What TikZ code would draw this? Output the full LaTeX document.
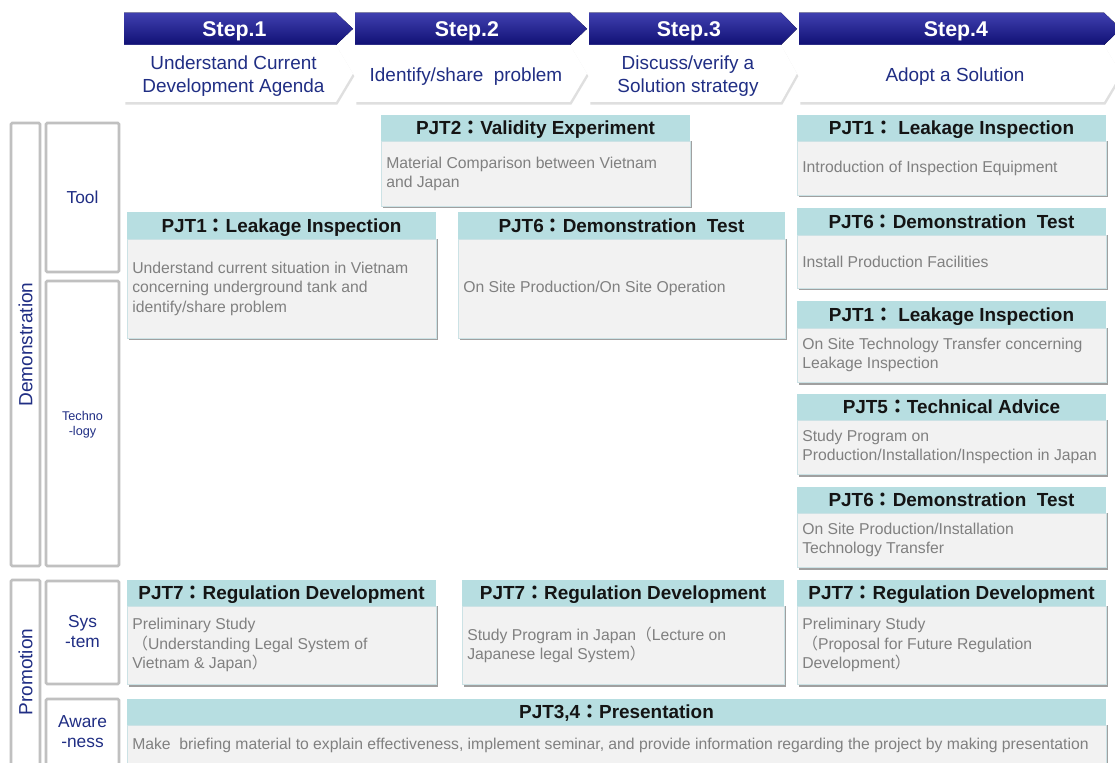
\documentclass[tikz,border=0pt]{standalone}
\usepackage{fontspec}
\setmainfont{Liberation Sans}
\newfontfamily\cjk{Noto Sans CJK JP}
\usetikzlibrary{shadows}

\definecolor{barTop}{RGB}{64,64,176}
\definecolor{barBot}{RGB}{16,16,116}
\definecolor{navy}{RGB}{32,46,132}
\definecolor{hdrFill}{RGB}{183,222,225}
\definecolor{bodyFill}{RGB}{242,242,242}
\definecolor{bodyLine}{RGB}{204,226,229}
\definecolor{bodyText}{RGB}{128,128,128}
\definecolor{frameLine}{RGB}{192,192,192}
\definecolor{shadowC}{RGB}{160,160,160}

% full-width punctuation
\newcommand\fwcolon{{\cjk ：}}
\newcommand\fwlp{{\cjk （}}
\newcommand\fwrp{{\cjk ）}}

\tikzset{
  stepbar/.style={top color=barTop, bottom color=barBot, draw=none},
  stepsub/.style={fill=white, drop shadow={shadow xshift=1pt, shadow yshift=-2pt, opacity=.25}},
  steptitle/.style={text=white, font=\fontsize{16}{19}\bfseries\selectfont, inner sep=0, anchor=base},
  subtitle/.style={text=navy, font=\fontsize{14.2}{17.3}\selectfont, align=center, inner sep=0},
  frame/.style={draw=frameLine, line width=2pt, fill=white, rounded corners=1pt},
  rowlabel/.style={text=navy, font=\fontsize{13}{15}\selectfont, align=center, inner sep=0},
  grouplabel/.style={text=navy, font=\fontsize{14.3}{17}\selectfont, inner sep=0, rotate=90},
  hdrbox/.style={fill=hdrFill},
  bodybox/.style={fill=bodyFill, draw=bodyLine, line width=0.6pt},
  hdrtext/.style={font=\fontsize{14.2}{16}\bfseries\selectfont, text=black!92, inner sep=0, anchor=base},
  bodytext/.style={font=\fontsize{11.8}{14.6}\selectfont, text=bodyText, align=left, inner sep=0, anchor=west},
}

% step chevron: name, left x, corner x, tip x, title, subtitle
\newcommand\stepchev[6]{%
  \fill[stepbar] (#2,12.7) -- (#3,12.7) -- (#4,28.8) -- (#3,45) -- (#2,45) -- cycle;
  \fill[stepsub] (#2,45) -- (#3,45) -- (#4,73.5) -- (#3,102) -- (#2,102) -- cycle;
  \node[steptitle] (#1-title) at ({(#2+#4)/2-4},36.5) {#5};
  \node[subtitle] (#1-sub) at ({(#2+#4)/2-5},76.5) {#6};
}

% project box: name, x1, header top, header bottom, x2, body bottom, title, text
\newcommand\pjtbox[8]{%
  \fill[shadowC] (#2+1.5,#4) rectangle (#5+1.5,#6+2.5);
  \draw[bodybox] (#2,#4) rectangle (#5,#6);
  \fill[hdrbox] (#2,#3) rectangle (#5,#4);
  \node[hdrtext] (#1-title) at ({(#2+#5)/2},{(#3+#4)/2+6.3}) {#7};
  \node[bodytext] (#1-text) at (#2+5,{(#4+#6)/2}) {#8};
}

\begin{document}
\begin{tikzpicture}[x=0.75pt, y=-0.75pt]
  \useasboundingbox (0,0) rectangle (1115,763);
  \fill[white] (0,0) rectangle (1115,763);
  \clip (0,0) rectangle (1115,763);

  % step header row
  \stepchev{s1}{124}{336}{353}{Step.1}{Understand Current\\Development Agenda}
  \stepchev{s2}{355}{570}{587}{Step.2}{Identify/share~ problem}
  \stepchev{s3}{589}{781}{797}{Step.3}{Discuss/verify a\\Solution strategy}
  \stepchev{s4}{799}{1104}{1121}{Step.4}{Adopt a Solution}

  % row frames on the left
  \draw[frame] (11,123) rectangle (40,566);
  \draw[frame] (46,123) rectangle (119,272);
  \draw[frame] (46,281) rectangle (119,566);
  \draw[frame] (11,580) rectangle (40,780);
  \draw[frame] (46,581) rectangle (119,684);
  \draw[frame] (46,699) rectangle (119,780);

  \node[grouplabel] (demo) at (25.5,344.5) {Demonstration};
  \node[grouplabel] (promo) at (25.5,672) {Promotion};
  \node[rowlabel] (tool) at (82.5,197) {Tool};
  \node[rowlabel, font=\fontsize{9.5}{11.3}\selectfont] (tech) at (82.5,424.5) {Techno\\-logy};
  \node[rowlabel] (sys) at (82.5,632) {Sys\\-tem};
  \node[rowlabel] (aware) at (82.5,732) {Aware\\-ness};

  % Demonstration: tool / technology
  \pjtbox{p2}{381}{115}{141.5}{690}{206}{PJT2\fwcolon Validity Experiment}{Material Comparison between Vietnam\\and Japan}
  \pjtbox{p1a}{127}{212.5}{239}{436}{338}{PJT1\fwcolon Leakage Inspection}{Understand current situation in Vietnam\\concerning underground tank and\\identify/share problem}
  \pjtbox{p6a}{458}{212.5}{239}{785}{338}{PJT6\fwcolon Demonstration~ Test}{On Site Production/On Site Operation}

  \pjtbox{p1b}{797}{115}{141}{1106}{195}{PJT1\fwcolon\ Leakage Inspection}{Introduction of Inspection Equipment}
  \pjtbox{p6b}{797}{208.5}{235}{1106}{288}{PJT6\fwcolon Demonstration~ Test}{Install Production Facilities}
  \pjtbox{p1c}{797}{301.5}{328}{1106}{382}{PJT1\fwcolon\ Leakage Inspection}{On Site Technology Transfer concerning\\Leakage Inspection}
  \pjtbox{p5}{797}{394}{420}{1106}{474}{PJT5\fwcolon Technical Advice}{Study Program on\\Production/Installation/Inspection in Japan}
  \pjtbox{p6c}{797}{487}{513}{1106}{567}{PJT6\fwcolon Demonstration~ Test}{On Site Production/Installation\\Technology Transfer}

  % Promotion: system
  \pjtbox{p7a}{127}{580}{606}{436}{684}{PJT7\fwcolon Regulation Development}{Preliminary Study\\\fwlp Understanding Legal System of\\Vietnam \& Japan\fwrp}
  \pjtbox{p7b}{462}{580}{606}{784}{684}{PJT7\fwcolon Regulation Development}{Study Program in Japan\fwlp Lecture on\\Japanese legal System\fwrp}
  \pjtbox{p7c}{797}{580}{606}{1106}{684}{PJT7\fwcolon Regulation Development}{Preliminary Study\\\fwlp Proposal for Future Regulation\\Development\fwrp}

  % Promotion: awareness
  \fill[shadowC] (128.5,725) rectangle (1107.5,775);
  \draw[bodybox] (127,725) rectangle (1106,775);
  \fill[hdrbox] (127,699) rectangle (1106,725);
  \node[hdrtext] (p34-title) at (616.5,718.3) {PJT3,4\fwcolon Presentation};
  \node[bodytext, anchor=base west] (p34-text) at (132,749.5) {Make~ briefing material to explain effectiveness, implement seminar, and provide information regarding the project by making presentation};
\end{tikzpicture}
\end{document}
